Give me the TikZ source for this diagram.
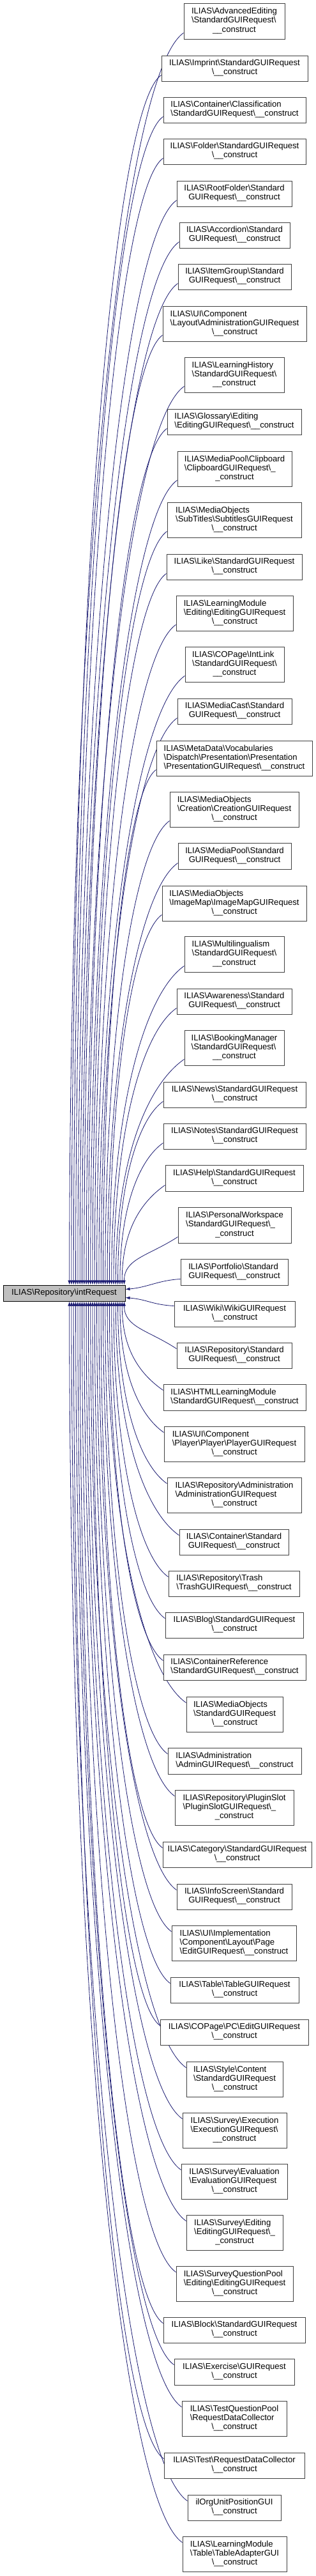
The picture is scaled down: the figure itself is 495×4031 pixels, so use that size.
\documentclass[tikz,border=0pt]{standalone}
\usepackage{fontspec}
\setmainfont{Liberation Sans}
\usetikzlibrary{arrows.meta,calc,backgrounds}
\definecolor{midblue}{RGB}{25,25,112}
\definecolor{boxgray}{RGB}{64,64,64}
\definecolor{rootgray}{RGB}{191,191,191}
\newcommand\bksl{\textbackslash}
\newcommand\gvlab[1]{\begin{tabular}{@{}l@{}}#1\end{tabular}}
\newcommand\gvlast[1]{\multicolumn{1}{@{}c@{}}{#1}}
\newcommand\gvnode[6]{\node[box,minimum width={#4-#2},minimum height={#5-#3}] (#1) at ({(#2+#4)/2},{(#3+#5)/2}) {\gvlab{#6}};}
\newcommand\gvup[2]{%
  \draw[edge] let \p1=($(#1.south west)+(0,-10)$), \p2=($(root.north west)+({#2-5},0)$),
    \n1={0.55*(\x1-\x2)}, \n2={min(0.7*\n1,0.4*(\y1-\y2))} in
    (\p2) .. controls (\x2,{\y2+0.55*(\y1-\y2)}) and ({\x1-\n1},{\y1-\n2}) .. (\p1);}
\newcommand\gvdown[2]{%
  \draw[edge] let \p1=($(#1.north west)+(0,10)$), \p2=($(root.south west)+({#2-5},0)$),
    \n1={0.55*(\x1-\x2)}, \n2={min(0.7*\n1,0.4*(\y2-\y1))} in
    (\p2) .. controls (\x2,{\y2-0.55*(\y2-\y1)}) and ({\x1-\n1},{\y1+\n2}) .. (\p1);}
\tikzset{
  box/.style={draw=boxgray,fill=white,line width=1pt,inner sep=0pt,font=\fontsize{13.1}{14.2}\selectfont},
  rootbox/.style={box,draw=black,fill=rootgray},
  edge/.style={draw=midblue,line width=0.8pt,{Latex[length=7pt,width=5pt]}-}
}
\begin{document}
\begin{tikzpicture}[x=1pt,y=-1pt]
\path[use as bounding box] (0,0) rectangle (495,4031);
\node[rootbox,minimum width=191,minimum height=25] (root) at (100.5,2023.5) {ILIAS\bksl Repository\bksl intRequest};
\gvnode{n1}{288}{5}{446}{61}{ILIAS\bksl AdvancedEditing\\\bksl StandardGUIRequest\bksl\\\gvlast{\_\_construct}}
\gvnode{n2}{253}{87}{482}{127}{ILIAS\bksl Imprint\bksl StandardGUIRequest\\\gvlast{\bksl\_\_construct}}
\gvnode{n3}{256}{152}{479}{192}{ILIAS\bksl Container\bksl Classification\\\gvlast{\bksl StandardGUIRequest\bksl\_\_construct}}
\gvnode{n4}{256}{217}{479}{257}{ILIAS\bksl Folder\bksl StandardGUIRequest\\\gvlast{\bksl\_\_construct}}
\gvnode{n5}{277}{283}{457}{323}{ILIAS\bksl RootFolder\bksl Standard\\\gvlast{GUIRequest\bksl\_\_construct}}
\gvnode{n6}{281}{348}{454}{388}{ILIAS\bksl Accordion\bksl Standard\\\gvlast{GUIRequest\bksl\_\_construct}}
\gvnode{n7}{279}{413}{456}{453}{ILIAS\bksl ItemGroup\bksl Standard\\\gvlast{GUIRequest\bksl\_\_construct}}
\gvnode{n8}{255}{479}{480}{534}{ILIAS\bksl UI\bksl Component\\\bksl Layout\bksl AdministrationGUIRequest\\\gvlast{\bksl\_\_construct}}
\gvnode{n9}{289}{559}{445}{614}{ILIAS\bksl LearningHistory\\\bksl StandardGUIRequest\bksl\\\gvlast{\_\_construct}}
\gvnode{n10}{262}{640}{472}{680}{ILIAS\bksl Glossary\bksl Editing\\\gvlast{\bksl EditingGUIRequest\bksl\_\_construct}}
\gvnode{n11}{278}{706}{457}{761}{ILIAS\bksl MediaPool\bksl Clipboard\\\bksl ClipboardGUIRequest\bksl\_\\\gvlast{\_construct}}
\gvnode{n12}{262}{786}{472}{841}{ILIAS\bksl MediaObjects\\\bksl SubTitles\bksl SubtitlesGUIRequest\\\gvlast{\bksl\_\_construct}}
\gvnode{n13}{261}{867}{473}{907}{ILIAS\bksl Like\bksl StandardGUIRequest\\\gvlast{\bksl\_\_construct}}
\gvnode{n14}{276}{932}{459}{987}{ILIAS\bksl LearningModule\\\bksl Editing\bksl EditingGUIRequest\\\gvlast{\bksl\_\_construct}}
\gvnode{n15}{290}{1012}{445}{1067}{ILIAS\bksl COPage\bksl IntLink\\\bksl StandardGUIRequest\bksl\\\gvlast{\_\_construct}}
\gvnode{n16}{278}{1093}{457}{1133}{ILIAS\bksl MediaCast\bksl Standard\\\gvlast{GUIRequest\bksl\_\_construct}}
\gvnode{n17}{245}{1159}{489}{1214}{ILIAS\bksl MetaData\bksl Vocabularies\\\bksl Dispatch\bksl Presentation\bksl Presentation\\\gvlast{\bksl PresentationGUIRequest\bksl\_\_construct}}
\gvnode{n18}{266}{1239}{468}{1294}{ILIAS\bksl MediaObjects\\\bksl Creation\bksl CreationGUIRequest\\\gvlast{\bksl\_\_construct}}
\gvnode{n19}{279}{1319}{456}{1360}{ILIAS\bksl MediaPool\bksl Standard\\\gvlast{GUIRequest\bksl\_\_construct}}
\gvnode{n20}{254}{1386}{480}{1441}{ILIAS\bksl MediaObjects\\\bksl ImageMap\bksl ImageMapGUIRequest\\\gvlast{\bksl\_\_construct}}
\gvnode{n21}{289}{1465}{445}{1521}{ILIAS\bksl Multilingualism\\\bksl StandardGUIRequest\bksl\\\gvlast{\_\_construct}}
\gvnode{n22}{277}{1547}{457}{1587}{ILIAS\bksl Awareness\bksl Standard\\\gvlast{GUIRequest\bksl\_\_construct}}
\gvnode{n23}{289}{1612}{445}{1667}{ILIAS\bksl BookingManager\\\bksl StandardGUIRequest\bksl\\\gvlast{\_\_construct}}
\gvnode{n24}{256}{1693}{479}{1733}{ILIAS\bksl News\bksl StandardGUIRequest\\\gvlast{\bksl\_\_construct}}
\gvnode{n25}{256}{1758}{479}{1798}{ILIAS\bksl Notes\bksl StandardGUIRequest\\\gvlast{\bksl\_\_construct}}
\gvnode{n26}{259}{1823}{475}{1864}{ILIAS\bksl Help\bksl StandardGUIRequest\\\gvlast{\bksl\_\_construct}}
\gvnode{n27}{279}{1889}{456}{1945}{ILIAS\bksl PersonalWorkspace\\\bksl StandardGUIRequest\bksl\_\\\gvlast{\_construct}}
\gvnode{n28}{283}{1970}{451}{2011}{ILIAS\bksl Portfolio\bksl Standard\\\gvlast{GUIRequest\bksl\_\_construct}}
\gvnode{n29}{273}{2036}{462}{2076}{ILIAS\bksl Wiki\bksl WikiGUIRequest\\\gvlast{\bksl\_\_construct}}
\gvnode{n30}{277}{2101}{457}{2141}{ILIAS\bksl Repository\bksl Standard\\\gvlast{GUIRequest\bksl\_\_construct}}
\gvnode{n31}{256}{2166}{479}{2207}{ILIAS\bksl HTMLLearningModule\\\gvlast{\bksl StandardGUIRequest\bksl\_\_construct}}
\gvnode{n32}{257}{2232}{477}{2287}{ILIAS\bksl UI\bksl Component\\\bksl Player\bksl Player\bksl PlayerGUIRequest\\\gvlast{\bksl\_\_construct}}
\gvnode{n33}{262}{2312}{472}{2367}{ILIAS\bksl Repository\bksl Administration\\\bksl AdministrationGUIRequest\\\gvlast{\bksl\_\_construct}}
\gvnode{n34}{281}{2393}{452}{2433}{ILIAS\bksl Container\bksl Standard\\\gvlast{GUIRequest\bksl\_\_construct}}
\gvnode{n35}{264}{2458}{469}{2498}{ILIAS\bksl Repository\bksl Trash\\\gvlast{\bksl TrashGUIRequest\bksl\_\_construct}}
\gvnode{n36}{259}{2523}{475}{2563}{ILIAS\bksl Blog\bksl StandardGUIRequest\\\gvlast{\bksl\_\_construct}}
\gvnode{n37}{256}{2589}{479}{2629}{ILIAS\bksl ContainerReference\\\gvlast{\bksl StandardGUIRequest\bksl\_\_construct}}
\gvnode{n38}{292}{2655}{443}{2710}{ILIAS\bksl MediaObjects\\\bksl StandardGUIRequest\\\gvlast{\bksl\_\_construct}}
\gvnode{n39}{263}{2735}{472}{2776}{ILIAS\bksl Administration\\\gvlast{\bksl AdminGUIRequest\bksl\_\_construct}}
\gvnode{n40}{274}{2801}{460}{2856}{ILIAS\bksl Repository\bksl PluginSlot\\\bksl PluginSlotGUIRequest\bksl\_\\\gvlast{\_construct}}
\gvnode{n41}{255}{2882}{488}{2922}{ILIAS\bksl Category\bksl StandardGUIRequest\\\gvlast{\bksl\_\_construct}}
\gvnode{n42}{277}{2948}{457}{2988}{ILIAS\bksl InfoScreen\bksl Standard\\\gvlast{GUIRequest\bksl\_\_construct}}
\gvnode{n43}{269}{3013}{464}{3068}{ILIAS\bksl UI\bksl Implementation\\\bksl Component\bksl Layout\bksl Page\\\gvlast{\bksl EditGUIRequest\bksl\_\_construct}}
\gvnode{n44}{267}{3094}{468}{3134}{ILIAS\bksl Table\bksl TableGUIRequest\\\gvlast{\bksl\_\_construct}}
\gvnode{n45}{251}{3160}{483}{3200}{ILIAS\bksl COPage\bksl PC\bksl EditGUIRequest\\\gvlast{\bksl\_\_construct}}
\gvnode{n46}{292}{3226}{443}{3281}{ILIAS\bksl Style\bksl Content\\\bksl StandardGUIRequest\\\gvlast{\bksl\_\_construct}}
\gvnode{n47}{286}{3306}{449}{3361}{ILIAS\bksl Survey\bksl Execution\\\bksl ExecutionGUIRequest\bksl\\\gvlast{\_\_construct}}
\gvnode{n48}{284}{3386}{450}{3441}{ILIAS\bksl Survey\bksl Evaluation\\\bksl EvaluationGUIRequest\\\gvlast{\bksl\_\_construct}}
\gvnode{n49}{292}{3466}{443}{3521}{ILIAS\bksl Survey\bksl Editing\\\bksl EditingGUIRequest\bksl\_\\\gvlast{\_construct}}
\gvnode{n50}{276}{3546}{459}{3601}{ILIAS\bksl SurveyQuestionPool\\\bksl Editing\bksl EditingGUIRequest\\\gvlast{\bksl\_\_construct}}
\gvnode{n51}{256}{3626}{478}{3666}{ILIAS\bksl Block\bksl StandardGUIRequest\\\gvlast{\bksl\_\_construct}}
\gvnode{n52}{273}{3691}{461}{3732}{ILIAS\bksl Exercise\bksl GUIRequest\\\gvlast{\bksl\_\_construct}}
\gvnode{n53}{285}{3757}{449}{3812}{ILIAS\bksl TestQuestionPool\\\bksl RequestDataCollector\\\gvlast{\bksl\_\_construct}}
\gvnode{n54}{257}{3838}{477}{3878}{ILIAS\bksl Test\bksl RequestDataCollector\\\gvlast{\bksl\_\_construct}}
\gvnode{n55}{294}{3904}{440}{3944}{ilOrgUnitPositionGUI\\\gvlast{\bksl\_\_construct}}
\gvnode{n56}{286}{3969}{449}{4024}{ILIAS\bksl LearningModule\\\bksl Table\bksl TableAdapterGUI\\\gvlast{\bksl\_\_construct}}
\begin{pgfonlayer}{background}
\foreach \k in {1,...,27} {\pgfmathsetmacro\gvxs{195-(27-\k)*3.3}\gvup{n\k}{\gvxs}}
\foreach \k in {30,...,56} {\pgfmathsetmacro\gvxs{195-(\k-30)*3.3}\gvdown{n\k}{\gvxs}}
\draw[edge] ($(root.north east)+(0,7)$) .. controls +(35,-3) and +(-35,2) .. ($(n28.south west)+(0,-10)$);
\draw[edge] ($(root.south east)+(0,-6)$) .. controls +(35,3) and +(-35,-2) .. ($(n29.north west)+(0,8)$);
\end{pgfonlayer}
\end{tikzpicture}
\end{document}
